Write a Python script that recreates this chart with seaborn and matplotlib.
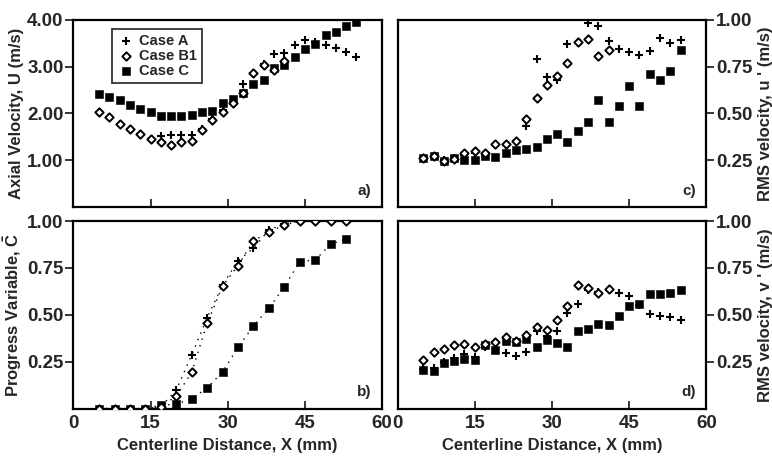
import numpy as np
import pandas as pd
import matplotlib
matplotlib.use("Agg")
import matplotlib.pyplot as plt
import seaborn as sns

sns.set_style("white")
plt.rcParams['font.family'] = ['Liberation Sans', 'DejaVu Sans']
plt.rcParams['font.weight'] = 'bold'
plt.rcParams['axes.labelweight'] = 'bold'
plt.rcParams['mathtext.fontset'] = 'custom'
plt.rcParams['mathtext.rm'] = 'Liberation Sans:bold'
plt.rcParams['mathtext.bf'] = 'Liberation Sans:bold'

# positions along the centerline (mm)
x_full = np.arange(5, 57, 2)          # 5..55, cases A and C in a), c), d)
x_b1 = np.arange(5, 43, 2)            # 5..41, case B1 in a), c), d)
x_prog = np.arange(5, 56, 3)          # 5..53, panel b)

# a) axial velocity U (m/s)
u_a = [2.04, 1.92, 1.78, 1.66, 1.55, 1.46, 1.52, 1.53, 1.53, 1.53, 1.66, 1.88, 2.08,
       2.25, 2.63, 2.87, 3.05, 3.27, 3.29, 3.45, 3.57, 3.52, 3.46, 3.40, 3.30, 3.20]
u_b1 = [2.04, 1.92, 1.78, 1.66, 1.55, 1.46, 1.38, 1.33, 1.38, 1.42, 1.64, 1.85, 2.02,
        2.22, 2.44, 2.87, 3.04, 2.92, 3.12]
u_c = [2.42, 2.36, 2.29, 2.17, 2.09, 2.02, 1.95, 1.95, 1.95, 1.97, 2.03, 2.06, 2.22,
       2.30, 2.43, 2.62, 2.72, 2.96, 3.03, 3.20, 3.38, 3.48, 3.68, 3.74, 3.86, 3.95]

# b) progress variable C
c_a = [0, 0, 0, 0, 0.01, 0.098, 0.286, 0.485, 0.66, 0.788, 0.856, 0.953, 0.985,
       1.0, 1.0, 1.0, 1.0]
c_b1 = [0, 0, 0, 0, 0.01, 0.066, 0.194, 0.455, 0.654, 0.763, 0.895, 0.941, 0.98,
        1.0, 1.0, 1.0, 1.0]
c_c = [0, 0, 0, 0, 0.018, 0.023, 0.053, 0.11, 0.196, 0.326, 0.442, 0.535, 0.65,
       0.784, 0.793, 0.877, 0.905]

# c) RMS velocity u' (m/s)
urms_a = [0.26, 0.27, 0.25, 0.26, 0.28, 0.29, 0.28, 0.33, 0.33, 0.35, 0.433, 0.79, 0.695,
          0.68, 0.869, 0.88, 0.98, 0.968, 0.887, 0.844, 0.825, 0.813, 0.834, 0.901, 0.875, 0.893]
urms_b1 = [0.26, 0.27, 0.245, 0.255, 0.29, 0.30, 0.29, 0.339, 0.339, 0.352, 0.472, 0.583,
           0.65, 0.698, 0.768, 0.88, 0.895, 0.807, 0.839]
urms_c = [0.26, 0.274, 0.247, 0.26, 0.253, 0.253, 0.274, 0.265, 0.286, 0.304, 0.309, 0.322,
          0.366, 0.389, 0.345, 0.406, 0.454, 0.569, 0.454, 0.539, 0.648, 0.539, 0.712,
          0.677, 0.724, 0.836]

# d) RMS velocity v' (m/s)
vrms_a = [0.21, 0.218, 0.25, 0.27, 0.29, 0.275, 0.33, 0.354, 0.294, 0.28, 0.302, 0.416,
          0.389, 0.413, 0.51, 0.56, 0.63, 0.62, 0.63, 0.614, 0.60, 0.55, 0.506, 0.492,
          0.488, 0.47]
vrms_b1 = [0.257, 0.304, 0.317, 0.339, 0.344, 0.326, 0.345, 0.355, 0.381, 0.36, 0.394,
           0.434, 0.42, 0.474, 0.546, 0.659, 0.642, 0.614, 0.636]
vrms_c = [0.203, 0.2, 0.245, 0.253, 0.266, 0.26, 0.34, 0.31, 0.36, 0.357, 0.37, 0.326,
          0.367, 0.349, 0.331, 0.412, 0.425, 0.452, 0.446, 0.492, 0.548, 0.557, 0.609,
          0.609, 0.618, 0.632]

FS = 12


def draw_cases(ax, xa, ya, xb, yb, xc, yc):
    sns.scatterplot(x=xa, y=ya, ax=ax, marker='+', s=34, color='black',
                    linewidth=1.5, label='Case A', zorder=3)
    sns.scatterplot(x=xb, y=yb, ax=ax, marker='D', s=18, facecolor='white',
                    edgecolor='black', linewidth=1.4, label='Case B1', zorder=4)
    sns.scatterplot(x=xc, y=yc, ax=ax, marker='s', s=26, color='black',
                    edgecolor='black', label='Case C', zorder=3)


def style_axis(ax, ylim, yticks, right=False, xlabels=False):
    ax.set_xlim(0, 60)
    ax.set_ylim(*ylim)
    ax.set_xticks([0, 15, 30, 45, 60])
    ax.set_yticks(yticks)
    ax.set_yticklabels(['%.2f' % t for t in yticks])
    if not xlabels:
        ax.set_xticklabels([])
    for s in ax.spines.values():
        s.set_color('black')
        s.set_linewidth(1.6)
    ax.tick_params(axis='x', direction='in', length=6, width=1.3, labelsize=FS + 1.5,
                   bottom=True, pad=5)
    ax.tick_params(axis='y', direction='out', length=6, width=1.3, labelsize=FS + 1.5,
                   left=not right, right=right, labelleft=not right, labelright=right, pad=1)
    if right:
        ax.yaxis.set_label_position('right')


fig, axs = plt.subplots(2, 2, figsize=(7.72, 4.58), dpi=100)
plt.subplots_adjust(left=0.095, right=0.915, bottom=0.108, top=0.957, wspace=0.05, hspace=0.075)

# a)
ax = axs[0, 0]
draw_cases(ax, x_full, u_a, x_b1, u_b1, x_full, u_c)
style_axis(ax, (0, 4), [1, 2, 3, 4])
ax.set_ylabel('Axial Velocity, U (m/s)', fontsize=FS, labelpad=2)
leg = ax.legend(loc='upper left', bbox_to_anchor=(0.126, 0.95), borderaxespad=0,
                fontsize=FS - 1.5, frameon=True, fancybox=False, handletextpad=0.3,
                labelspacing=0.05, borderpad=0.35, handlelength=1.2)
leg.get_frame().set_edgecolor('black')
leg.get_frame().set_linewidth(1.3)
ax.text(0.965, 0.05, 'a)', transform=ax.transAxes, ha='right', va='bottom',
        fontsize=FS - 1, fontweight='bold')

# c)
ax = axs[0, 1]
draw_cases(ax, x_full, urms_a, x_b1, urms_b1, x_full, urms_c)
ax.get_legend().remove()
style_axis(ax, (0, 1), [0.25, 0.5, 0.75, 1.0], right=True)
ax.set_ylabel("RMS velocity, u ' (m/s)", fontsize=FS, labelpad=4)
ax.text(0.965, 0.05, 'c)', transform=ax.transAxes, ha='right', va='bottom',
        fontsize=FS - 1, fontweight='bold')

# b)
ax = axs[1, 0]
sns.lineplot(x=x_prog, y=c_a, ax=ax, color='black', linestyle=(0, (1, 4)), linewidth=1.0)
sns.lineplot(x=x_prog, y=c_b1, ax=ax, color='black', linestyle=(2, (1, 4)), linewidth=1.0)
sns.lineplot(x=x_prog, y=c_c, ax=ax, color='black', linestyle=(0, (1, 4)), linewidth=1.0)
draw_cases(ax, x_prog, c_a, x_prog, c_b1, x_prog, c_c)
ax.get_legend().remove()
style_axis(ax, (0, 1), [0.25, 0.5, 0.75, 1.0], xlabels=True)
ax.set_ylabel(r'Progress Variable, $\bar{\mathrm{C}}$', fontsize=FS, labelpad=2)
ax.set_xlabel('Centerline Distance, X (mm)', fontsize=FS, labelpad=4)
ax.text(0.965, 0.05, 'b)', transform=ax.transAxes, ha='right', va='bottom',
        fontsize=FS - 1, fontweight='bold')

# d)
ax = axs[1, 1]
draw_cases(ax, x_full, vrms_a, x_b1, vrms_b1, x_full, vrms_c)
ax.get_legend().remove()
style_axis(ax, (0, 1), [0.25, 0.5, 0.75, 1.0], right=True, xlabels=True)
ax.set_ylabel("RMS velocity, v ' (m/s)", fontsize=FS, labelpad=4)
ax.set_xlabel('Centerline Distance, X (mm)', fontsize=FS, labelpad=4)
ax.text(0.965, 0.05, 'd)', transform=ax.transAxes, ha='right', va='bottom',
        fontsize=FS - 1, fontweight='bold')

fig.savefig('out.png', dpi=100, facecolor='white')
